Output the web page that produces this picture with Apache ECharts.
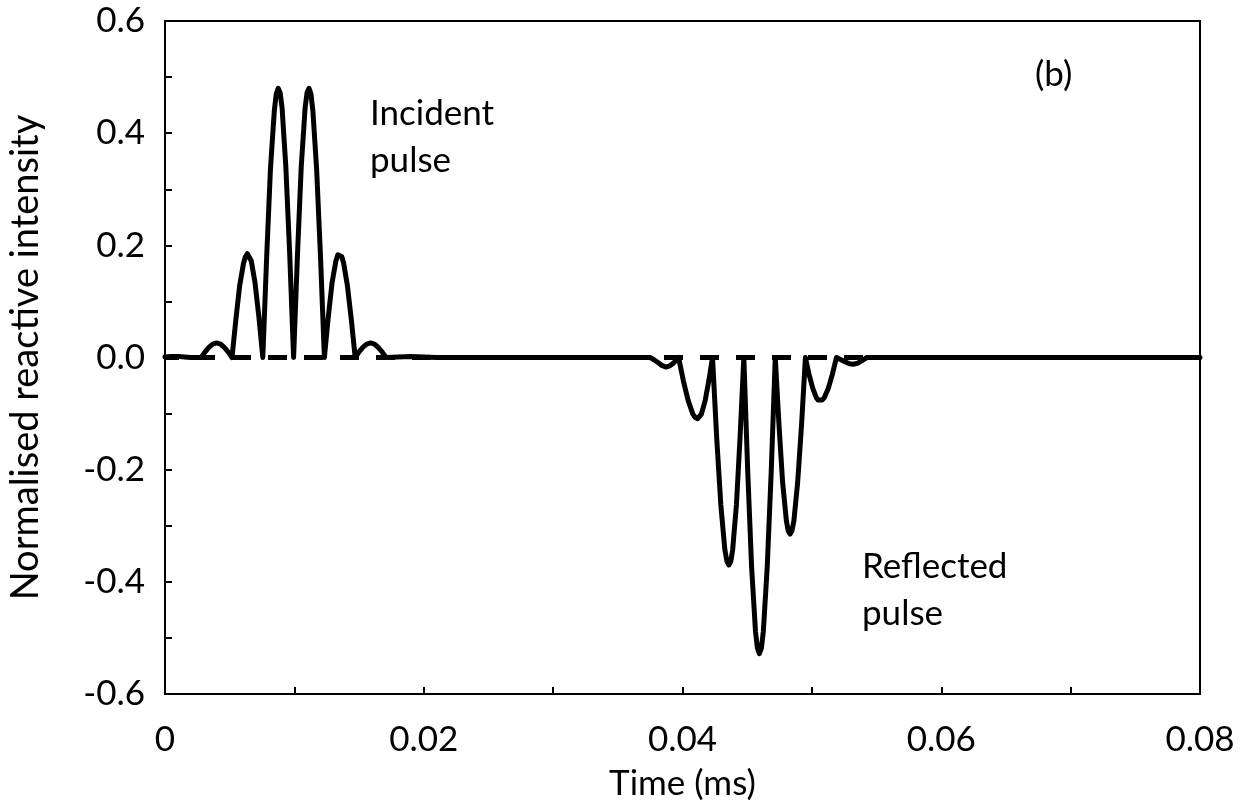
<!DOCTYPE html>
<html>
<head>
<meta charset="utf-8">
<script src="https://cdn.jsdelivr.net/npm/echarts@6/dist/echarts.min.js"></script>
<style>
html,body{margin:0;padding:0;background:#fff;}
#chart{width:1240px;height:807px;}
</style>
</head>
<body>
<div id="chart"></div>
<script>
// Time (ms) of the solid trace
const solidTime = [
  0, 0.0005, 0.0010, 0.0015, 0.0020, 0.0028,
  0.00310, 0.00339, 0.00369, 0.00399, 0.00429, 0.00458, 0.00488, 0.00518,
  0.00548, 0.00577, 0.00607, 0.00622, 0.00637, 0.00652, 0.00667, 0.00696, 0.00726, 0.00756,
  0.00786, 0.00815, 0.00845, 0.00860, 0.00875, 0.00890, 0.00905, 0.00934, 0.00964, 0.00994,
  0.01024, 0.01053, 0.01083, 0.01098, 0.01113, 0.01128, 0.01143, 0.01172, 0.01202, 0.01232,
  0.01262, 0.01291, 0.01321, 0.01336, 0.01351, 0.01366, 0.01381, 0.01410, 0.01440, 0.01470,
  0.01500, 0.01529, 0.01559, 0.01589, 0.01619, 0.01648, 0.01678, 0.01708,
  0.0180, 0.0190, 0.0200, 0.0210, 0.0300, 0.0370,
  0.0375, 0.0378, 0.0381, 0.0384, 0.0387, 0.0390, 0.0393, 0.0395, 0.0397,
  0.04007, 0.04044, 0.04080, 0.04099, 0.04117, 0.04132, 0.04146, 0.04175, 0.04203, 0.04232,
  0.04264, 0.04296, 0.04327, 0.04343, 0.04359, 0.04374, 0.04388, 0.04417, 0.04445, 0.04474,
  0.04504, 0.04534, 0.04564, 0.04579, 0.04594, 0.04610, 0.04625, 0.04655, 0.04686, 0.04717,
  0.04746, 0.04774, 0.04803, 0.04817, 0.04831, 0.04846, 0.04861, 0.04890, 0.04920, 0.04950,
  0.04978, 0.05007, 0.05035, 0.05049, 0.05063, 0.05079, 0.05095, 0.05127, 0.05158, 0.05190,
  0.05225, 0.05260, 0.05290, 0.05320, 0.05355, 0.05390, 0.05425,
  0.0550, 0.0600, 0.0700, 0.0800
];
// Normalised reactive intensity of the solid trace
const solidValue = [
  0.001, 0.002, 0.002, 0.001, 0.000, 0,
  0.010, 0.018, 0.024, 0.026, 0.024, 0.018, 0.010, 0,
  0.068, 0.128, 0.168, 0.180, 0.185, 0.183, 0.172, 0.133, 0.072, 0,
  0.180, 0.336, 0.440, 0.470, 0.480, 0.472, 0.445, 0.340, 0.184, 0,
  0.184, 0.340, 0.445, 0.472, 0.480, 0.470, 0.440, 0.336, 0.180, 0,
  0.072, 0.133, 0.172, 0.183, 0.185, 0.180, 0.168, 0.128, 0.068, 0,
  0.010, 0.018, 0.024, 0.026, 0.024, 0.018, 0.010, 0,
  0.001, 0.002, 0.001, 0, 0, 0,
  0, -0.004, -0.009, -0.014, -0.017, -0.015, -0.010, -0.005, 0,
  -0.042, -0.077, -0.101, -0.107, -0.109, -0.107, -0.101, -0.077, -0.042, 0,
  -0.142, -0.262, -0.342, -0.363, -0.370, -0.363, -0.342, -0.262, -0.142, 0,
  -0.202, -0.373, -0.488, -0.518, -0.528, -0.518, -0.488, -0.373, -0.202, 0,
  -0.121, -0.223, -0.291, -0.309, -0.315, -0.309, -0.291, -0.223, -0.121, 0,
  -0.030, -0.055, -0.072, -0.076, -0.078, -0.076, -0.072, -0.055, -0.030, 0,
  -0.004, -0.008, -0.011, -0.012, -0.010, -0.005, 0,
  0, 0, 0, 0
];
// Dashed reference trace
const dashedTime = [0, 0.08];
const dashedValue = [0, 0];

const xTicks = [0, 0.02, 0.04, 0.06, 0.08];
const yTicks = [-0.6, -0.4, -0.2, 0.0, 0.2, 0.4, 0.6];

const FONT = 'Lato';
const solidData = solidTime.map((t, i) => [t, solidValue[i]]);
const dashedData = dashedTime.map((t, i) => [t, dashedValue[i]]);

const chart = echarts.init(document.getElementById('chart'), null, {renderer: 'canvas'});
chart.setOption({
  backgroundColor: '#fff',
  animation: false,
  grid: {left: 165, right: 40, top: 21, bottom: 113, containLabel: false, outerBoundsMode: 'none',
    show: true, borderColor: '#000', borderWidth: 2, backgroundColor: 'transparent'},
  xAxis: {
    type: 'value', min: xTicks[0], max: xTicks[xTicks.length - 1], interval: 0.02,
    name: 'Time (ms)', nameLocation: 'middle', nameGap: 72,
    nameTextStyle: {fontFamily: FONT, fontSize: 35, color: '#000'},
    axisLine: {show: true, onZero: false, lineStyle: {color: '#000', width: 2}},
    axisTick: {show: true, inside: true, length: 7, lineStyle: {color: '#000', width: 2}},
    minorTick: {show: true, splitNumber: 2, length: 7, lineStyle: {color: '#000', width: 2}},
    splitLine: {show: false},
    axisLabel: {fontFamily: FONT, fontSize: 35, color: '#000', margin: 28,
      formatter: v => String(+v.toFixed(2))}
  },
  yAxis: {
    type: 'value', min: yTicks[0], max: yTicks[yTicks.length - 1], interval: 0.2,
    name: 'Normalised reactive intensity', nameLocation: 'middle', nameGap: 120, nameRotate: 90,
    nameTextStyle: {fontFamily: FONT, fontSize: 38, color: '#000'},
    axisLine: {show: true, onZero: false, lineStyle: {color: '#000', width: 2}},
    axisTick: {show: true, inside: true, length: 7, lineStyle: {color: '#000', width: 2}},
    minorTick: {show: true, splitNumber: 2, length: 7, lineStyle: {color: '#000', width: 2}},
    splitLine: {show: false},
    axisLabel: {fontFamily: FONT, fontSize: 35, color: '#000', margin: 20,
      formatter: v => v.toFixed(1)}
  },
  series: [
    {
      type: 'line', data: dashedData, symbol: 'none', silent: true,
      lineStyle: {color: '#000', width: 5, type: [19, 17], dashOffset: 5}
    },
    {
      type: 'line', data: solidData, symbol: 'none', smooth: false, silent: true,
      lineStyle: {color: '#000', width: 5, join: 'round', cap: 'round'}
    }
  ],
  graphic: [
    {type: 'text', left: 370, top: 90, style: {text: 'Incident\npulse', fontFamily: FONT, fontSize: 35, lineHeight: 47, fill: '#000'}},
    {type: 'text', left: 862, top: 543, style: {text: 'Reflected\npulse', fontFamily: FONT, fontSize: 35, lineHeight: 47, fill: '#000'}},
    {type: 'text', left: 1035, top: 57, style: {text: '(b)', fontFamily: FONT, fontSize: 35, fill: '#000'}}
  ]
});
</script>
</body>
</html>
